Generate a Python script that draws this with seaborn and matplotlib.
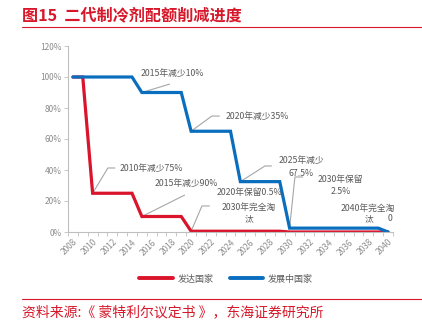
import numpy as np
import pandas as pd
import matplotlib
matplotlib.use("Agg")
import matplotlib.pyplot as plt
from matplotlib.ticker import FuncFormatter, MultipleLocator, FixedLocator
from matplotlib.lines import Line2D
import seaborn as sns

# ---------------- data ----------------
years = list(range(2008, 2041))
developed = [100, 100] + [25] * 5 + [10] * 5 + [0.5] * 10 + [0] * 11
developing = [100] * 7 + [90] * 5 + [65] * 5 + [32.5] * 5 + [2.5] * 10 + [0]
series_names = ["发达国家", "发展中国家"]
series_colors = ["#D9142B", "#0A6EBE"]
title_text = "图15  二代制冷剂配额削减进度"
source_text = "资料来源:《 蒙特利尔议定书 》，东海证券研究所"
xtick_labels = [str(y) for y in range(2008, 2041, 2)]

df = pd.DataFrame({
    "year": years * 2,
    "value": developed + developing,
    "series": [series_names[0]] * len(years) + [series_names[1]] * len(years),
})

# ---------------- style ----------------
sns.set_theme(style="white")
plt.rcParams["font.family"] = ["Noto Sans CJK SC", "DejaVu Sans"]
plt.rcParams["axes.unicode_minus"] = False

W, H = 422, 324
fig = plt.figure(figsize=(W / 100, H / 100), dpi=100)
ax = fig.add_axes([68 / W, 1 - 232 / H, (393 - 68) / W, (232 - 46) / H])

sns.lineplot(data=df, x="year", y="value", hue="series", hue_order=series_names,
             palette=series_colors, linewidth=2.3, ax=ax, legend=False,
             solid_joinstyle="miter")

ax.set_xlim(2007.5, 2040.5)
ax.set_ylim(0, 120)
ax.set_xlabel("")
ax.set_ylabel("")

grey_axis = "#BFBFBF"
tick_col = "#8C8C8C"
for s in ["top", "right"]:
    ax.spines[s].set_visible(False)
for s in ["left", "bottom"]:
    ax.spines[s].set_color(grey_axis)
    ax.spines[s].set_linewidth(0.8)

ax.yaxis.set_major_locator(MultipleLocator(20))
ax.yaxis.set_major_formatter(FuncFormatter(lambda v, p: f"{int(v)}%"))
ax.tick_params(axis="y", which="major", direction="out", length=3, width=0.6,
               color=grey_axis, labelsize=6, labelcolor=tick_col, pad=1.5, left=True)

ax.xaxis.set_major_locator(FixedLocator(list(range(2008, 2041, 2))))
ax.set_xticklabels(xtick_labels, rotation=45, ha="right", rotation_mode="anchor")
ax.xaxis.set_minor_locator(FixedLocator([y + 0.5 for y in range(2007, 2041)]))
ax.tick_params(axis="x", which="major", length=0, labelsize=6, labelcolor=tick_col, pad=4)
ax.tick_params(axis="x", which="minor", direction="out", length=3, width=0.6,
               color=grey_axis, bottom=True)

# ---------------- annotations ----------------
txt_col = "#595959"
lead_col = "#A6A6A6"
fs = 6.3

def leader(points):
    xs = [p[0] for p in points]
    ys = [p[1] for p in points]
    ax.plot(xs, ys, color=lead_col, lw=0.8, solid_capstyle="butt", zorder=1)

def label(x, y, s, ls=1.35):
    ax.text(x, y, s, ha="center", va="center", fontsize=fs, color=txt_col,
            linespacing=ls, zorder=5)

label(2018.05, 102.6, "2015年减少10%")
leader([(2015, 90), (2017.85, 95.5)])

label(2026.7, 74.8, "2020年减少35%")
leader([(2020, 65), (2022.1, 74.8), (2022.9, 74.8)])

label(2016.0, 41.3, "2010年减少75%")
leader([(2010, 25), (2011.55, 41.3), (2012.3, 41.3)])

label(2019.47, 31.0, "2015年减少90%")
leader([(2015, 10), (2019.37, 23.9)])

label(2025.97, 25.2, "2020年保留0.5%")

label(2025.9, 12.3, "2030年完全淘\n汰")
leader([(2020, 0.5), (2021.1, 16.8), (2021.9, 16.8)])

label(2031.15, 41.9, "2025年减少\n67.5%", ls=1.5)
leader([(2025, 32.5), (2027.5, 42.6), (2028.2, 42.6)])

label(2035.2, 30.0, "2030年保留\n2.5%", ls=1.4)
leader([(2030, 2.5), (2030.54, 35.5), (2031.35, 35.5)])

label(2037.95, 15.5, "2040年完全淘")
label(2038.05, 8.3, "汰")
label(2040.2, 9.0, "0")

# ---------------- legend ----------------
handles = [Line2D([0], [0], color=c, lw=2.8) for c in series_colors]
leg = fig.legend(handles, series_names, loc="center", bbox_to_anchor=(226 / W, 1 - 279 / H),
                 ncol=2, frameon=False, fontsize=6.5, handlelength=3.7, handletextpad=0.5,
                 columnspacing=1.8, borderpad=0)
for t in leg.get_texts():
    t.set_color(txt_col)

# ---------------- title / source ----------------
red = "#D7182A"
fig.text(22 / W, 1 - 15.5 / H, title_text, ha="left", va="center", fontsize=11.6,
         fontweight="bold", color=red)
fig.add_artist(Line2D([22 / W, 1.0], [1 - 27 / H, 1 - 27 / H], color=red, lw=0.8))
fig.add_artist(Line2D([22 / W, 1.0], [1 - 299 / H, 1 - 299 / H], color=red, lw=0.8))
fig.text(22 / W, 1 - 312 / H, source_text, ha="left", va="center", fontsize=10.0, color=red)

fig.savefig("out.png", dpi=100)
